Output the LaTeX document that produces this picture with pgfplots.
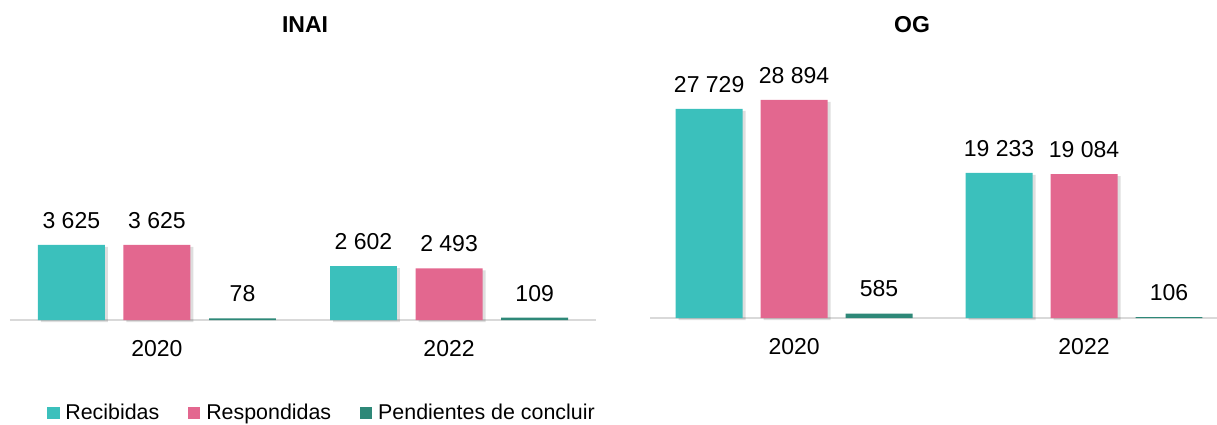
\documentclass[border=0pt]{standalone}
\usepackage{pgfplots}
\usepackage{pgfplotstable}
\pgfplotsset{compat=1.18}
\usepackage{fontspec}
\setmainfont{Liberation Sans}
\definecolor{recib}{RGB}{59,192,188}
\definecolor{resp}{RGB}{227,103,143}
\definecolor{pend}{RGB}{46,136,120}
\definecolor{baseln}{RGB}{217,217,217}
\newcommand\lbl{\fontsize{11.5}{14}\selectfont}

\pgfplotstableread{
x rec recl resp respl pend pendl
0 3625 3~625 3625 3~625 78 78
1 2602 2~602 2493 2~493 109 109
}\inai
\pgfplotstableread{
x rec recl resp respl pend pendl
0 27729 27~729 28894 28~894 585 585
1 19233 19~233 19084 19~084 106 106
}\og

\pgfplotsset{
  panel/.style={
    scale only axis, ybar, ymin=0, clip=false,
    axis x line=bottom, axis y line=none,
    x axis line style={-, draw=baseln, line width=1pt},
    xtick={0,1}, xticklabels={2020,2022},
    xtick style={draw=none}, major tick length=0pt,
    ytick=\empty,
    xticklabel style={font=\lbl, inner sep=0pt, anchor=north, yshift=-10pt},
  },
  bars/.style 2 args={fill=#1, draw=none, bar shift=#2,
    nodes near coords, point meta=explicit symbolic,
    every node near coord/.append style={font=\lbl, text=black, inner sep=0pt, anchor=south, yshift=8pt}},
  shad/.style={fill=black, opacity=0.13, draw=none, forget plot, bar shift=#1, xshift=1.5pt, yshift=-1pt},
}

\begin{document}
\begin{tikzpicture}
% INAI
\begin{axis}[panel, at={(5pt,52pt)}, anchor=south west,
  width=293pt, height=145pt, xmin=-0.503, xmax=1.503, ymax=14000,
  bar width=0.229,
  legend style={at={(0.063,-0.321)}, anchor=west, draw=none, fill=none,
    legend columns=3, font=\fontsize{10.7}{13}\selectfont, inner sep=0pt,
    nodes={inner sep=0pt},
    /tikz/every odd column/.append style={column sep=3pt},
    /tikz/every even column/.append style={column sep=14.5pt}},
]
\addlegendimage{legend image code/.code={\fill[recib] (0pt,-2.8pt) rectangle (5.6pt,2.8pt);}}
\addlegendimage{legend image code/.code={\fill[resp] (0pt,-2.8pt) rectangle (5.6pt,2.8pt);}}
\addlegendimage{legend image code/.code={\fill[pend] (0pt,-2.8pt) rectangle (5.6pt,2.8pt);}}
\addplot[shad=-0.293] table[x=x, y=rec] {\inai};
\addplot[shad=0] table[x=x, y=resp] {\inai};
\addplot[bars={recib}{-0.293}] table[x=x, y=rec, meta=recl] {\inai};
\addplot[bars={resp}{0}] table[x=x, y=resp, meta=respl] {\inai};
\addplot[bars={pend}{0.293}] table[x=x, y=pend, meta=pendl] {\inai};
\legend{Recibidas, Respondidas, Pendientes de concluir}
\end{axis}
% OG
\begin{axis}[panel, at={(325pt,53pt)}, anchor=south west,
  width=283.5pt, height=144pt, xmin=-0.497, xmax=1.4586, ymax=38170,
  bar width=0.231,
]
\addplot[shad=-0.293] table[x=x, y=rec] {\og};
\addplot[shad=0] table[x=x, y=resp] {\og};
\addplot[bars={recib}{-0.293}] table[x=x, y=rec, meta=recl] {\og};
\addplot[bars={resp}{0}] table[x=x, y=resp, meta=respl] {\og};
\addplot[bars={pend}{0.293}] table[x=x, y=pend, meta=pendl] {\og};
\end{axis}
\node[font=\bfseries\lbl] at (152.5pt,199.5pt) {INAI};
\node[font=\bfseries\lbl] at (456pt,199.5pt) {OG};
\pgfresetboundingbox
\path[use as bounding box] (0,0) rectangle (608.5pt,212pt);
\end{tikzpicture}
\end{document}
